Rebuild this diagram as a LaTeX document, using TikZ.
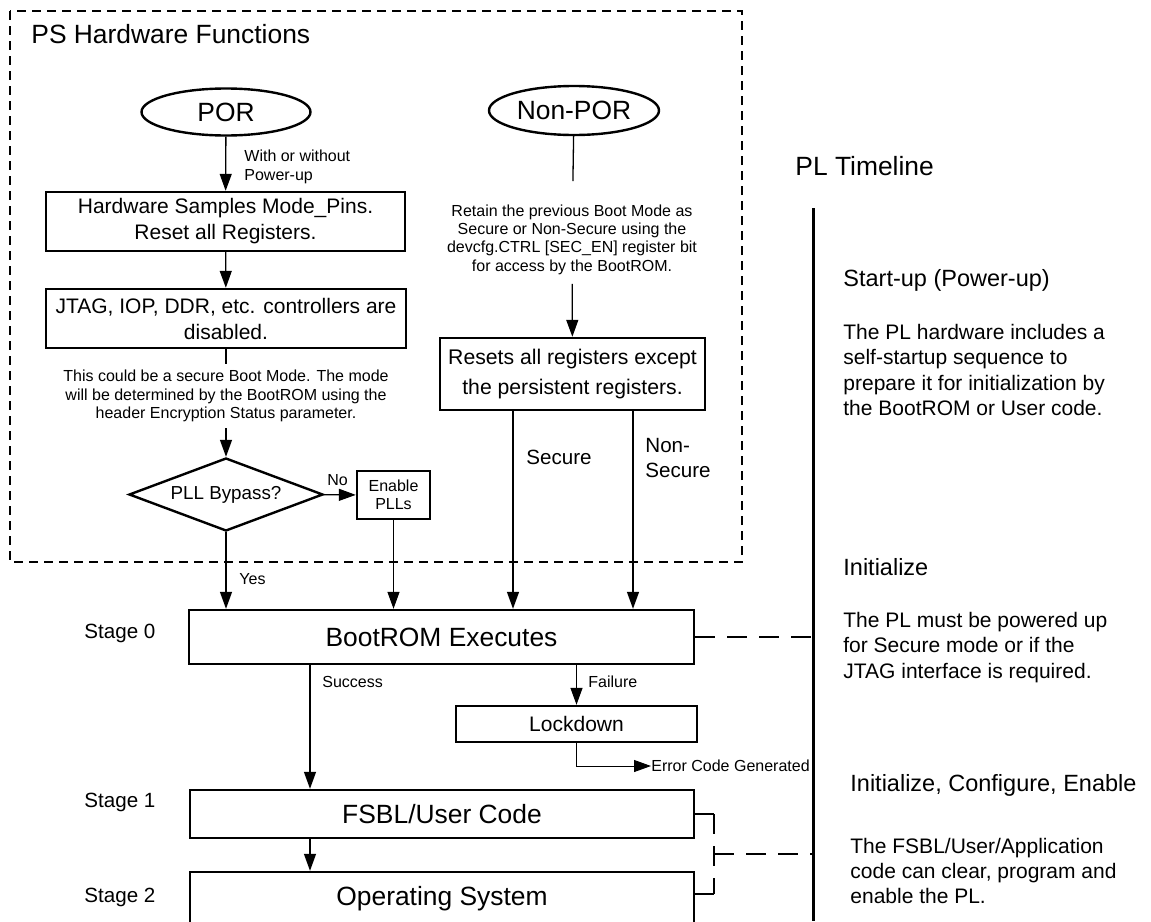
\documentclass[tikz,border=0pt]{standalone}
\usepackage{fontspec}
\setmainfont{Liberation Sans}
\usetikzlibrary{shapes.geometric,arrows.meta,calc}

\newcommand{\szbig}{\fontsize{13.2}{15}\selectfont}
\newcommand{\szbox}{\fontsize{10.5}{13}\selectfont}
\newcommand{\szsmall}{\fontsize{8}{9.2}\selectfont}
\newcommand{\szlabel}{\fontsize{10.3}{12.5}\selectfont}
\newcommand{\szhead}{\fontsize{11.75}{14}\selectfont}
\newcommand{\szbody}{\fontsize{10.5}{12.65}\selectfont}

\begin{document}
\begin{tikzpicture}[x=0.5pt,y=-0.5pt]
\tikzstyle{procbox}=[rectangle,draw,line width=1.2pt,align=center,inner xsep=2pt,font=\szbox]
\tikzstyle{bigbox}=[procbox,font=\szbig]
\tikzstyle{oval}=[ellipse,draw,line width=1.2pt,inner sep=0pt,font=\szbig]
\tikzstyle{decide}=[diamond,draw,line width=1.2pt,inner sep=0pt,aspect=2.6,font=\fontsize{9.4}{11}\selectfont]
\tikzstyle{note}=[inner sep=0pt,align=center,font=\szsmall]
\tikzstyle{lbl}=[inner sep=0pt,anchor=west,align=left,font=\szsmall]
\tikzstyle{arr}=[-{Triangle[length=8.5pt,width=6pt]},line width=0.65pt]
\tikzstyle{tldash}=[line width=1.2pt,dash pattern=on 10pt off 6pt]

\clip (0,0) rectangle (1151,921);

% PS hardware
\draw[line width=0.65pt,dash pattern=on 4.5pt off 3pt] (10,11) rectangle (742,562);
\node[lbl,font=\szbig] (pshw) at (31,34.5) {PS Hardware Functions};

\node[oval,minimum width=84.5pt,minimum height=23.5pt] (por) at (226,112) {POR};
\node[oval,minimum width=85pt,minimum height=24.5pt] (nonpor) at (574,110.5) {Non-POR};

\node[procbox,minimum width=179.5pt,minimum height=29.5pt] (hwsample) at (225.5,221.5) {Hardware Samples Mode\_Pins.\\Reset all Registers.};
\node[procbox,minimum width=180pt,minimum height=29.5pt] (jtag) at (226,318.5) {JTAG, IOP, DDR, etc. controllers are\\disabled.};
\node[note] (secmode) at (226,396) {This could be a secure Boot Mode. The mode\\will be determined by the BootROM using the\\header Encryption Status parameter.};
\node[decide,minimum width=97pt,minimum height=36.5pt] (pll) at (226,494.5) {PLL Bypass?};
\node[procbox,font=\szsmall,inner sep=0pt,minimum width=36.5pt,minimum height=24pt] (enable) at (393.5,495) {Enable\\PLLs};

\node[note] (retain) at (572,239.5) {Retain the previous Boot Mode as\\Secure or Non-Secure using the\\devcfg.CTRL [SEC\_EN] register bit\\for access by the BootROM.};
\node[procbox,minimum width=132.5pt,minimum height=36pt,font=\fontsize{10.6}{15}\selectfont] (resets) at (572.5,374) {Resets all registers except\\the persistent registers.};

% stages
\node[bigbox,minimum width=252.5pt,minimum height=27pt] (bootrom) at (441.5,637) {BootROM Executes};
\node[procbox,minimum width=120.5pt,minimum height=18pt] (lockdown) at (576.5,724) {Lockdown};
\node[bigbox,minimum width=252pt,minimum height=24pt] (fsbl) at (442,814) {FSBL/User Code};
\node[bigbox,minimum width=252pt,minimum height=27pt] (os) at (442,899) {Operating System};

\node[lbl,font=\szlabel] (stage0) at (84,633) {Stage 0};
\node[lbl,font=\szlabel] (stage1) at (84,802) {Stage 1};
\node[lbl,font=\szlabel] (stage2) at (84,897) {Stage 2};

% POR path
\draw[arr] (por) -- (hwsample);
\node[lbl] (powerup) at (244,167) {With or without\\Power-up};
\draw[arr] (hwsample) -- (jtag);
\draw[line width=0.65pt,shorten >=3pt] (jtag) -- (secmode);
\draw[arr,shorten <=3pt] (secmode) -- (pll);
\draw[arr] (pll) -- (enable);
\node[lbl] (no) at (327,480) {No};
\draw[arr] (pll.south) -- (pll.south |- bootrom.north);
\node[lbl] (yes) at (239,579) {Yes};
\draw[arr] (enable.south) -- (enable.south |- bootrom.north);

% Non-POR path
\draw[line width=0.65pt,shorten >=11.5pt] (nonpor) -- (retain);
\draw[arr,shorten <=4.5pt] (retain) -- (resets);
\coordinate (secure) at ($(resets.south)+(-59.5,0)$);
\coordinate (nonsecure) at ($(resets.south)+(60.5,0)$);
\draw[arr] (secure) -- (secure |- bootrom.north);
\draw[arr] (nonsecure) -- (nonsecure |- bootrom.north);
\node[lbl,font=\szlabel] (securetxt) at (526,457) {Secure};
\node[lbl,font=\szlabel] (nonsectxt) at (645,458.5) {Non-\\Secure};

% after BootROM
\coordinate (success) at ($(bootrom.south)+(-131.5,0)$);
\draw[arr] (success) -- (success |- fsbl.north);
\node[lbl] (succtxt) at (322,682) {Success};
\draw[arr] (lockdown |- bootrom.south) -- (lockdown);
\node[lbl] (failtxt) at (588,682) {Failure};
\node[lbl] (errcode) at (651,766) {Error Code Generated};
\draw[arr,line width=0.5pt] (lockdown) |- (errcode);
\draw[arr] (success |- fsbl.south) -- (success |- os.north);

% PL timeline
\node[lbl,font=\szbig] (pltitle) at (795,166) {PL Timeline};
\coordinate (tltop) at (813,208);
\coordinate (tlbot) at (813,921);
\draw[line width=1.5pt] (tltop) -- (tlbot);
\node[lbl,font=\szhead] (startup) at (843,280) {Start-up (Power-up)};
\node[lbl,font=\szbody] (startupnote) at (843,370) {The PL hardware includes a\\self-startup sequence to\\prepare it for initialization by\\the BootROM or User code.};
\node[lbl,font=\szhead] (init) at (843,567) {Initialize};
\node[lbl,font=\szbody] (initnote) at (843,647.5) {The PL must be powered up\\for Secure mode or if the\\JTAG interface is required.};
\node[lbl,font=\szhead] (config) at (850,785) {Initialize, Configure, Enable};
\node[lbl,font=\szbody] (confignote) at (850,871) {The FSBL/User/Application\\code can clear, program and\\enable the PL.};

\draw[tldash] (bootrom.east) -- (bootrom.east -| tltop);
\coordinate (brtop) at ($(fsbl.east)+(19,0)$);
\coordinate (brbot) at ($(os.east)+(19,-5)$);
\draw[line width=1.2pt] (fsbl.east) -- (brtop);
\draw[line width=1.2pt] (brbot) -- (brbot -| os.east);
\draw[tldash] (brtop) -- (brbot);
\coordinate (bracket) at ($(brtop)!0.5!(brbot)$);
\draw[tldash] (bracket) -- (bracket -| tltop);
\end{tikzpicture}
\end{document}
